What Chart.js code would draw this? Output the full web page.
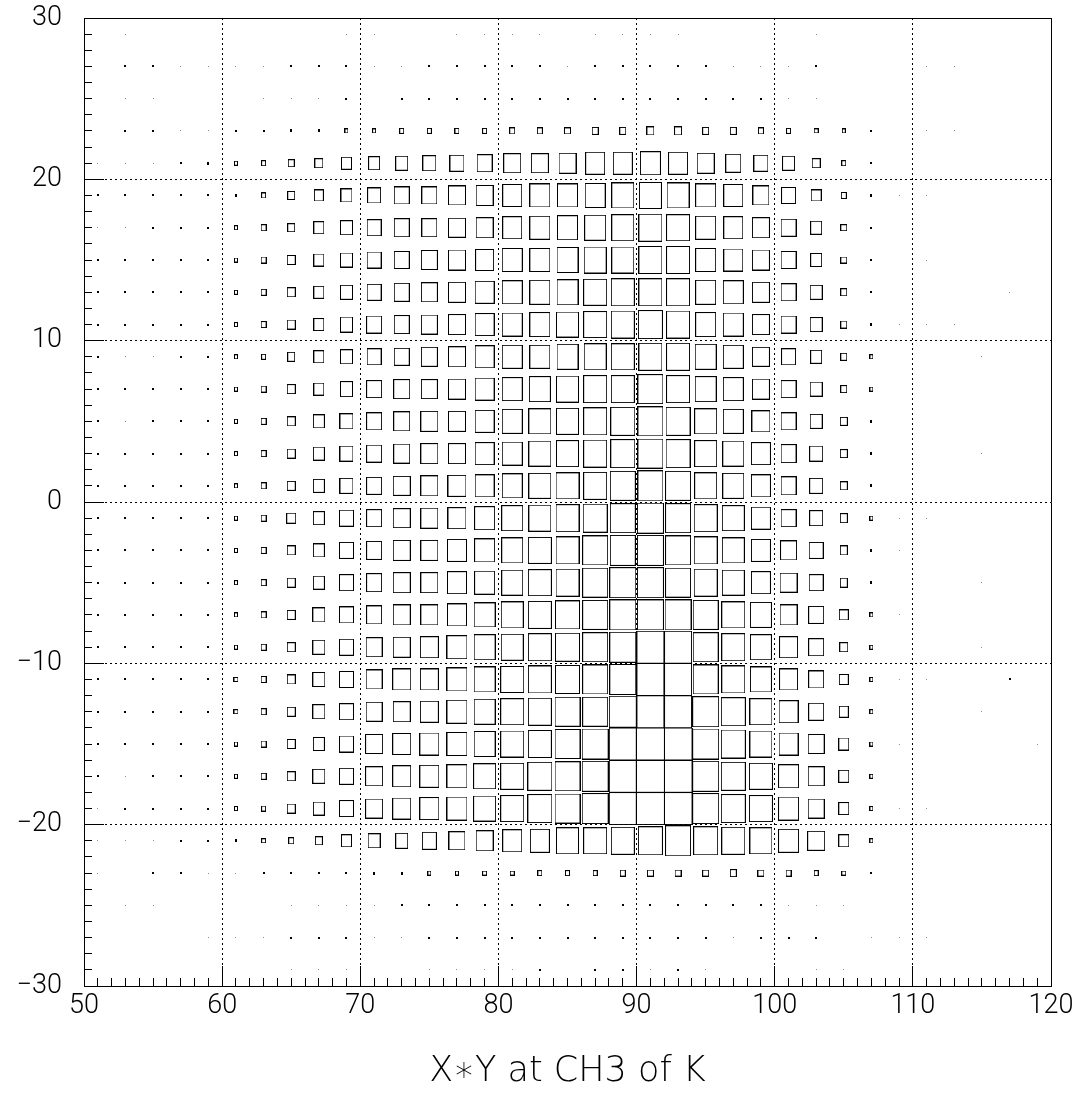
<!DOCTYPE html>
<html>
<head>
<meta charset="utf-8">
<title>X*Y at CH3 of K</title>
<script src="https://cdn.jsdelivr.net/npm/chart.js@4.4.1/dist/chart.umd.min.js"></script>
<style>
  html, body { margin: 0; padding: 0; background: #fff; }
  canvas { display: block; }
</style>
</head>
<body>
<canvas id="boxChart" width="1083" height="1093"></canvas>
<script>
// bin centres (bin width 2 on both axes)
const xBins = [51, 53, 55, 57, 59, 61, 63, 65, 67, 69, 71, 73, 75, 77, 79, 81, 83, 85,
               87, 89, 91, 93, 95, 97, 99, 101, 103, 105, 107, 109, 111, 113, 115, 117, 119];
const yBins = [29, 27, 25, 23, 21, 19, 17, 15, 13, 11, 9, 7, 5, 3, 1,
               -1, -3, -5, -7, -9, -11, -13, -15, -17, -19, -21, -23, -25, -27, -29];

// bin contents, one row per yBins entry, one column per xBins entry (100 = biggest bin)
const cells = [
  [0,3,0,0,0, 0,0,0,0,3, 3,0,0,3,3, 3,3,0,3,3, 3,3,0,0,0, 0,3,0,0,0, 0,0,0,0,0],
  [0,7,7,3,3, 3,3,7,7,7, 3,3,7,7,7, 7,7,3,7,7, 7,7,7,3,3, 3,7,0,0,0, 3,3,0,0,0],
  [0,3,3,0,0, 0,3,3,3,7, 0,7,7,7,7, 7,7,7,7,7, 7,7,7,7,7, 3,3,0,0,0, 0,0,0,0,0],
  [0,7,7,3,3, 7,7,9,9,11, 11,14,14,14,16, 18,18,20,22,22, 24,24,22,22,18, 16,13,11,7,0, 3,3,0,0,0],
  [3,3,3,7,9, 11,14,22,29,36, 40,43,46,49,53, 60,60,63,67,67, 71,69,62,56,49, 44,29,16,7,0, 0,0,0,0,0],
  [7,7,7,7,7, 9,16,25,34,40, 47,53,54,60,62, 67,71,71,74,78, 80,78,72,67,58, 51,35,18,9,3, 3,0,0,0,0],
  [3,3,7,7,7, 11,18,25,36,43, 51,56,56,60,63, 69,72,74,76,80, 83,82,72,69,62, 53,40,20,7,0, 0,0,0,0,0],
  [7,7,7,7,7, 11,18,29,36,43, 51,54,58,62,65, 71,72,76,80,80, 83,83,72,69,63, 53,40,20,7,0, 3,0,0,0,0],
  [7,7,7,7,7, 11,18,29,36,43, 51,56,58,62,67, 71,74,76,82,83, 85,83,74,71,62, 54,43,22,7,0, 0,0,0,3,0],
  [7,7,7,7,7, 11,18,29,36,45, 54,56,58,63,67, 71,74,78,82,83, 87,83,74,71,63, 53,43,22,9,3, 3,3,0,0,0],
  [7,3,3,7,7, 11,16,27,36,43, 51,54,58,63,67, 71,72,76,80,82, 85,83,76,71,60, 51,40,22,11,0, 0,0,3,0,0],
  [7,7,7,7,7, 11,18,29,36,45, 53,58,58,63,69, 72,76,80,83,85, 89,85,76,72,63, 53,43,22,11,0, 0,0,0,0,0],
  [7,3,7,7,7, 11,18,29,40,47, 54,58,62,63,69, 74,78,80,85,87, 91,87,78,74,65, 54,43,24,9,0, 0,0,0,0,0],
  [7,7,7,7,7, 11,18,29,40,47, 54,58,62,63,69, 72,78,80,83,87, 91,87,80,76,67, 56,47,24,9,0, 0,0,3,0,0],
  [7,7,7,7,7, 11,18,29,40,47, 54,60,62,65,69, 74,78,82,85,89, 92,89,80,76,69, 56,47,25,9,0, 0,0,0,0,0],
  [7,7,7,7,7, 11,18,31,40,49, 54,60,63,65,72, 76,80,83,87,91, 94,91,83,78,67, 54,47,27,11,3, 3,0,0,0,0],
  [7,7,7,7,7, 11,18,29,40,49, 56,62,63,69,72, 76,82,83,89,92, 94,91,83,78,69, 58,49,27,9,3, 0,0,0,0,0],
  [7,7,7,7,7, 11,18,29,40,49, 56,62,63,69,72, 76,82,83,91,94, 94,91,83,79,69, 60,51,27,9,0, 0,0,3,0,0],
  [7,7,7,7,7, 11,18,29,42,51, 56,63,63,69,75, 80,83,86,91,94, 94,94,91,82,76, 62,53,31,11,3, 0,0,0,0,0],
  [7,7,7,7,7, 11,18,29,42,51, 58,63,65,71,76, 80,83,86,91,94, 98,98,91,83,76, 65,54,29,11,0, 0,0,3,0,0],
  [7,7,7,7,7, 13,18,29,42,51, 58,65,65,71,76, 82,83,86,89,94, 98,99,91,83,76, 65,54,31,11,3, 3,0,0,7,0],
  [7,7,7,7,7, 13,18,29,42,51, 58,63,65,71,76, 82,83,89,91,97, 99,99,93,87,81, 67,54,33,11,0, 0,0,3,0,0],
  [7,7,7,7,7, 11,18,29,40,51, 60,65,67,71,76, 82,85,91,93,99, 100,100,94,87,80, 69,58,36,11,3, 0,0,0,0,3],
  [7,3,7,7,7, 11,18,29,42,51, 60,65,67,71,78, 82,87,91,93,99, 100,100,94,88,82, 71,58,36,11,0, 0,0,0,0,0],
  [3,7,7,7,7, 11,16,29,40,51, 60,65,67,71,78, 82,87,91,93,99, 100,100,94,87,82, 71,58,36,11,3, 3,0,0,0,0],
  [3,3,3,7,7, 9,13,18,26,36, 43,45,52,57,62, 68,70,80,82,84, 88,92,86,84,80, 71,60,37,11,0, 0,0,0,0,0],
  [3,0,7,7,3, 3,7,7,7,7, 9,9,11,11,13, 13,14,14,16,18, 20,20,20,22,20, 18,16,13,7,0, 0,0,0,0,0],
  [0,3,3,0,0, 0,0,3,3,3, 3,7,7,7,7, 7,7,7,7,7, 7,7,7,7,7, 3,3,3,0,0, 0,0,0,0,0],
  [0,0,0,0,3, 3,3,7,7,7, 3,3,7,7,7, 7,7,7,7,7, 7,7,7,3,7, 7,7,0,3,3, 3,0,0,0,0],
  [0,0,0,0,0, 0,0,3,3,3, 0,0,3,3,3, 3,7,0,7,7, 3,7,3,0,0, 0,3,3,0,0, 0,0,0,0,0]
];
const maxContent = 100;
const xTitle = 'X\u2217Y at CH3 of K';

const points = [];
yBins.forEach((y, r) => {
  cells[r].forEach((v, c) => {
    if (v > 0) points.push({ x: xBins[c], y: y, v: v });
  });
});

// box marker: size taken from the scales, like ROOT's BOX option
const boxCache = {};
function boxStyle(ctx) {
  const p = ctx.raw;
  if (!p) return 'rect';
  const xs = ctx.chart.scales.x, ys = ctx.chart.scales.y;
  const binW = Math.abs(xs.getPixelForValue(2) - xs.getPixelForValue(0));
  const binH = Math.abs(ys.getPixelForValue(0) - ys.getPixelForValue(2));
  const w = Math.max(1, Math.round(binW * p.v / maxContent));
  const h = Math.max(1, Math.round(binH * p.v / maxContent));
  const faint = p.v < 5;
  const key = w + 'x' + h + (faint ? 'f' : '');
  if (boxCache[key]) return boxCache[key];

  const cv = document.createElement('canvas');
  const g = cv.getContext('2d');
  if (faint) {
    cv.width = 1; cv.height = 1;
    g.fillStyle = '#8c8c8c';
    g.fillRect(0, 0, 1, 1);
  } else if (w <= 2) {
    cv.width = w; cv.height = h;
    g.fillStyle = '#000';
    g.fillRect(0, 0, w, h);
  } else {
    cv.width = w + 1; cv.height = h + 1;
    g.strokeStyle = '#000';
    g.lineWidth = 1;
    g.strokeRect(0.5, 0.5, w, h);
  }
  boxCache[key] = cv;
  return cv;
}

// keep the frame exactly where it is in the picture
function fixSize(s, w, h) {
  if (w !== null) s.width = w;
  if (h !== null) s.height = h;
  s.paddingTop = 0; s.paddingBottom = 0; s.paddingLeft = 0; s.paddingRight = 0;
}

const tickFont = { family: "'Roboto', 'Liberation Sans', sans-serif", size: 27, weight: '300' };
const clear = 'rgba(0,0,0,0)';

const boxChart = new Chart(document.getElementById('boxChart'), {
  type: 'scatter',
  data: {
    datasets: [{
      data: points,
      pointStyle: boxStyle,
      pointRadius: 2,
      pointHoverRadius: 2,
      showLine: false
    }]
  },
  options: {
    responsive: false,
    animation: false,
    events: [],
    layout: { padding: { top: 18, right: 32, left: 0, bottom: 0 } },
    plugins: { legend: { display: false }, tooltip: { enabled: false } },
    scales: {
      x: {
        type: 'linear', position: 'bottom', weight: 1, min: 50, max: 120,
        ticks: { stepSize: 10, autoSkip: false, maxRotation: 0, padding: 24, color: '#000', font: tickFont },
        grid: {
          color: c => (c.tick && (c.tick.value === 50 || c.tick.value === 120)) ? clear : '#000',
          lineWidth: 1, tickLength: -20, tickColor: '#000', tickWidth: 1
        },
        border: { display: true, color: '#000', width: 1, dash: [2, 3] },
        title: {
          display: true, text: xTitle, color: '#000',
          font: { family: "'DejaVu Sans', sans-serif", size: 35, weight: '200' },
          padding: { top: 0, bottom: 0 }
        },
        afterFit: s => fixSize(s, null, 107)
      },
      xMinor: {
        type: 'linear', position: 'bottom', weight: 0, min: 50, max: 120,
        ticks: { stepSize: 1, maxTicksLimit: 200, display: false },
        grid: { drawOnChartArea: false, tickLength: -8, tickColor: '#000', tickWidth: 1 },
        border: { display: false },
        afterFit: s => fixSize(s, null, 0)
      },
      y: {
        type: 'linear', position: 'left', weight: 1, min: -30, max: 30,
        ticks: {
          stepSize: 10, autoSkip: false, padding: 42, color: '#000', font: tickFont,
          callback: v => v < 0 ? '\u2212' + (-v) : String(v)
        },
        grid: {
          color: c => (c.tick && Math.abs(c.tick.value) === 30) ? clear : '#000',
          lineWidth: 1, tickLength: -20, tickColor: '#000', tickWidth: 1
        },
        border: { display: true, color: '#000', width: 1, dash: [2, 3] },
        afterFit: s => fixSize(s, 84, null)
      },
      yMinor: {
        type: 'linear', position: 'left', weight: 0, min: -30, max: 30,
        ticks: { stepSize: 1, maxTicksLimit: 200, display: false },
        grid: { drawOnChartArea: false, tickLength: -8, tickColor: '#000', tickWidth: 1 },
        border: { display: false },
        afterFit: s => fixSize(s, 0, null)
      },
      xTop: {
        type: 'linear', position: 'top',
        ticks: { display: false }, grid: { display: false },
        border: { display: true, color: '#000', width: 1 },
        afterFit: s => fixSize(s, null, 0)
      },
      yRight: {
        type: 'linear', position: 'right',
        ticks: { display: false }, grid: { display: false },
        border: { display: true, color: '#000', width: 1 },
        afterFit: s => fixSize(s, 0, null)
      }
    }
  }
});
</script>
</body>
</html>
